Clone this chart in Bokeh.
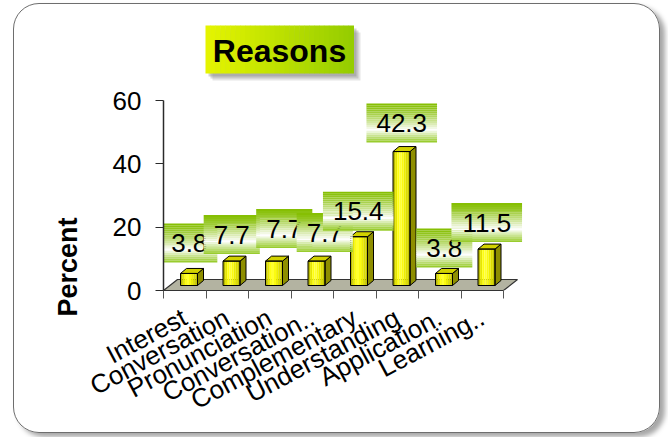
from bokeh.plotting import figure
from bokeh.models import FixedTicker, Range1d, Title
from bokeh.core.properties import value
from bokeh.embed import file_html
from bokeh.resources import INLINE

# ---------------- data ----------------
categories = ["Interest", "Conversation", "Pronunciation", "Conversation..",
              "Complementary", "Understanding", "Application.", "Learning.."]
percents = [3.8, 7.7, 7.7, 7.7, 15.4, 42.3, 3.8, 11.5]
y_ticks = [0, 20, 40, 60]
title_text = "Reasons"
y_label = "Percent"

# ---------------- layout / style ----------------
W, H = 668, 437
FRAME_L, FRAME_W = 163, 370
ZERO_PX, SIXTY_PX, FRAME_T = 290, 100, 18      # pixel rows of 0, 60 and frame top
PX_X = 42.5                                     # pixels per category
Y_MAX = 60
PX_Y = (ZERO_PX - SIXTY_PX) / Y_MAX             # pixels per percent
FONT = "Liberation Sans"
n = len(categories)

def dx(px):   # canvas x (px) -> data x
    return (px - FRAME_L) / PX_X

def dy(py):   # canvas y (px) -> data y
    return (ZERO_PX - py) / PX_Y

css = """
:host { position: relative; }
:host::after {
  content: "";
  position: absolute;
  left: 13px; top: 3px; width: 645px; height: 428px;
  border: 1.5px solid #6e6e6e;
  border-radius: 26px;
  box-shadow: 5px 4px 5px rgba(0,0,0,0.35);
  pointer-events: none;
}
"""

p = figure(width=W, height=H,
           x_range=Range1d(0, FRAME_W / PX_X), y_range=Range1d(0, dy(FRAME_T)),
           min_border_left=FRAME_L, min_border_right=W - FRAME_L - FRAME_W,
           min_border_top=FRAME_T, min_border_bottom=H - ZERO_PX,
           output_backend="svg", toolbar_location=None, stylesheets=[css])
p.grid.visible = False
p.outline_line_color = None
p.background_fill_color = None
p.border_fill_color = None

# ---------------- axes ----------------
yax = p.yaxis[0]
yax.ticker = FixedTicker(ticks=y_ticks)
yax.bounds = (0, Y_MAX)
yax.major_tick_out = 8
yax.major_tick_in = 0
yax.minor_tick_line_color = None
yax.major_label_standoff = 14
yax.major_label_text_font = FONT
yax.major_label_text_font_size = "26px"
yax.major_label_text_color = "black"
yax.axis_line_color = "#2a2a2a"
yax.axis_line_width = 1.5
yax.major_tick_line_color = "#2a2a2a"

xax = p.xaxis[0]
xax.ticker = FixedTicker(ticks=[i + 0.5 for i in range(n)],
                         minor_ticks=list(range(n + 1)))
xax.major_label_overrides = {i + 0.5: c for i, c in enumerate(categories)}
xax.bounds = (0, n)
xax.major_tick_line_color = None
xax.minor_tick_out = 8
xax.minor_tick_in = 0
xax.minor_tick_line_color = "#555555"
xax.axis_line_color = "#333333"
xax.axis_line_width = 1.2
xax.major_label_orientation = 0.49
xax.major_label_standoff = 17
xax.major_label_text_font = FONT
xax.major_label_text_font_size = "26px"
xax.major_label_text_color = "black"

# y axis title, in the left panel
p.add_layout(Title(text=y_label, align="left", offset=-26, standoff=53,
                   text_font=FONT, text_font_style="bold", text_font_size="27px",
                   text_color="black"), "left")

# ---------------- 3D floor ----------------
FLOOR_DX, FLOOR_DY = 14 / PX_X, 11 / PX_Y
p.patch([0, n, n + FLOOR_DX, FLOOR_DX], [0, 0, FLOOR_DY, FLOOR_DY],
        fill_color="#b3b3a1", line_color="#333333", line_width=1.2)

# ---------------- 3D bars ----------------
BASE = 5 / PX_Y
FX0, FX1 = 0.40, 0.80
DX, DY = 6 / PX_X, 5 / PX_Y
front_cols = ["#b9b900", "#e6e600", "#ffff10", "#ffff30", "#fbfb10",
              "#eeee00", "#dcdc00", "#c4c400"]
ns = len(front_cols)
sl, sr, sb, st, sc = [], [], [], [], []
for i, v in enumerate(percents):
    for k, col in enumerate(front_cols):
        sl.append(i + FX0 + (FX1 - FX0) * k / ns)
        sr.append(i + FX0 + (FX1 - FX0) * (k + 1) / ns)
        sb.append(BASE)
        st.append(BASE + v)
        sc.append(col)
p.quad(left=sl, right=sr, bottom=sb, top=st, fill_color=sc, line_color=None)

side_xs, side_ys, top_xs, top_ys = [], [], [], []
for i, v in enumerate(percents):
    t = BASE + v
    side_xs.append([i + FX1, i + FX1 + DX, i + FX1 + DX, i + FX1])
    side_ys.append([BASE, BASE + DY, t + DY, t])
    top_xs.append([i + FX0, i + FX1, i + FX1 + DX, i + FX0 + DX])
    top_ys.append([t, t, t + DY, t + DY])
p.patches(side_xs, side_ys, fill_color="#8e8e00", line_color="black", line_width=1)
p.patches(top_xs, top_ys, fill_color="#d2d200", line_color="black", line_width=1)
p.quad(left=[i + FX0 for i in range(n)], right=[i + FX1 for i in range(n)],
       bottom=[BASE] * n, top=[BASE + v for v in percents],
       fill_color=None, line_color="black", line_width=1)

# ---------------- data labels (green gradient boxes) ----------------
def mix(c1, c2, t):
    return "#%02x%02x%02x" % tuple(int(round(a + (b - a) * t)) for a, b in zip(c1, c2))

G_TOP, WHITE, G_BOT = (132, 190, 0), (255, 255, 255), (145, 200, 30)
NB = 20
band_cols = []
for k in range(NB):
    t = (k + 0.5) / NB
    if t < 0.68:
        band_cols.append(mix(G_TOP, WHITE, (t / 0.68) ** 1.3))
    else:
        band_cols.append(mix(WHITE, G_BOT, ((t - 0.68) / 0.32) ** 0.9))

# manual label placement shifts of the original (px: right, up)
LABEL_SHIFT = [(0, 2), (0, -2), (10, 4), (8, 0), (-1, -3), (0, 0), (0, -3), (0, -2)]
LABEL_FS = 26
BOX_H = 39 / PX_Y
for i, v in enumerate(percents):
    txt = f"{v:.1f}"
    tw = sum(0.278 if ch == "." else 0.556 for ch in txt) * LABEL_FS
    half_w = (tw + 20) / 2 / PX_X
    sx, sy = LABEL_SHIFT[i]
    cx = i + 0.5 + (4.5 + sx) / PX_X
    yb = BASE + v + DY + (4 + sy) / PX_Y
    bl, br, bb, bt = [], [], [], []
    for k in range(NB):
        bl.append(cx - half_w)
        br.append(cx + half_w)
        bt.append(yb + BOX_H * (1 - k / NB))
        bb.append(yb + BOX_H * (1 - (k + 1) / NB))
    p.quad(left=bl, right=br, bottom=bb, top=bt, fill_color=band_cols, line_color=None)
    p.text(x=[cx], y=[yb + BOX_H / 2], text=[txt], text_align="center",
           text_baseline="middle", text_font=value(FONT),
           text_font_size=f"{LABEL_FS}px", text_color="black")

# ---------------- title box (drawn in the frame area above the axis) ----------------
TL, TR, TT, TB = 205, 353, 25, 73
for k, (off, a) in enumerate([(7, 0.18), (5, 0.25), (3, 0.3)]):
    p.quad(left=[dx(TL + off)], right=[dx(TR + off)], top=[dy(TT + off)],
           bottom=[dy(TB + off)], fill_color="#707070", fill_alpha=a, line_color=None)
NT = 30
tl, tr, tcol = [], [], []
for k in range(NT):
    t = (k + 0.5) / NT
    tl.append(dx(TL + (TR - TL) * k / NT))
    tr.append(dx(TL + (TR - TL) * (k + 1) / NT + 0.5))
    tcol.append(mix((230, 245, 0), (148, 204, 0), t))
p.quad(left=tl, right=tr, top=[dy(TT)] * NT, bottom=[dy(TB)] * NT,
       fill_color=tcol, line_color=None)
p.text(x=[dx((TL + TR) / 2)], y=[dy((TT + TB) / 2 + 1)], text=[title_text],
       text_align="center", text_baseline="middle", text_font=value(FONT),
       text_font_style="bold", text_font_size="32px", text_color="black")

open("out.html", "w").write(file_html(p, INLINE))
